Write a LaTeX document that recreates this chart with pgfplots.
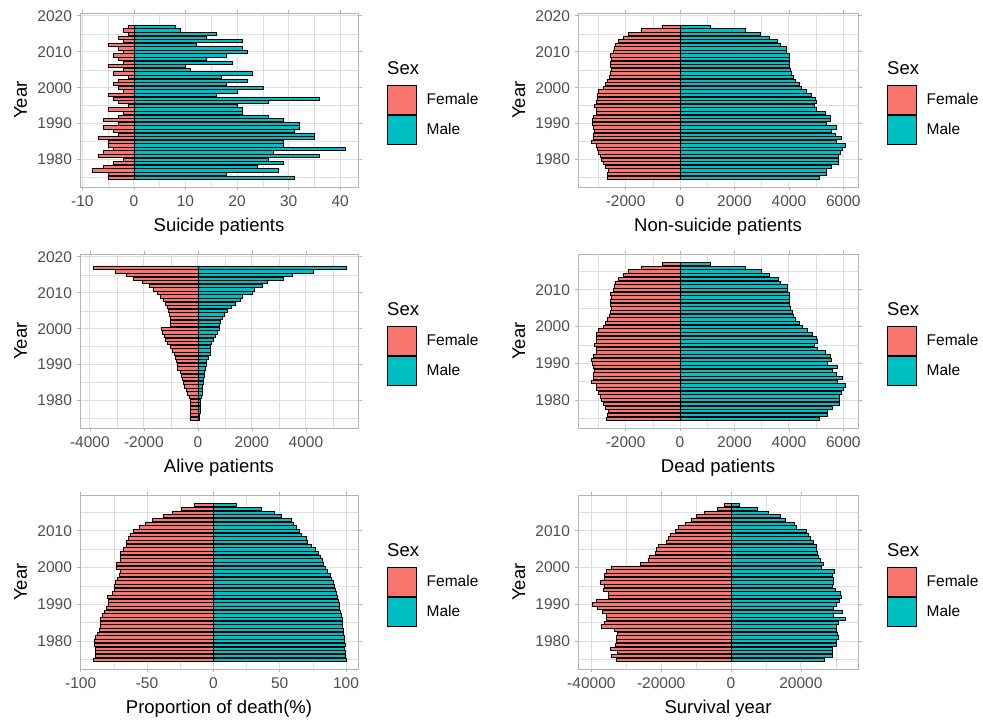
\documentclass[border=0pt]{standalone}
\usepackage{fontspec}
\setmainfont{Liberation Sans}
\usepackage{pgfplots}
\pgfplotsset{compat=1.18}
\usepackage{pgfplotstable}
\definecolor{fem}{HTML}{F8766D}
\definecolor{mal}{HTML}{00BFC4}
\definecolor{gridc}{HTML}{DEDEDE}
\definecolor{borderc}{HTML}{B3B3B3}
\definecolor{tickc}{HTML}{4D4D4D}
\newcommand\tickfont{\fontsize{15.5}{18}\selectfont}
\newcommand\titlefont{\fontsize{18.5}{22}\selectfont}
\newcommand\legfont{\fontsize{15.5}{18}\selectfont}

% Suicide patients
\pgfplotstableread{
year f m
2017 -1 8
2016 -2 9
2015 -1 16
2014 -3 14
2013 -2 21
2012 -5 12
2011 -3 21
2010 -2 22
2009 -4 18
2008 -3 14
2007 -2 19
2006 -5 10
2005 -2 11
2004 -4 23
2003 -1 17
2002 -3 22
2001 -4 18
2000 -3 25
1999 -2 20
1998 -5 16
1997 -4 36
1996 -3 26
1995 -1 20
1994 -5 21
1993 -2 21
1992 -3 26
1991 -6 29
1990 -3 32
1989 -6 32
1988 -4 31
1987 -3 35
1986 -7 35
1985 -5 29
1984 -5 29
1983 -4 41
1982 -6 27
1981 -7 36
1980 -2 26
1979 -4 29
1978 -6 24
1977 -8 28
1976 -5 18
1975 -5 31
}\tA

% Non-suicide patients
\pgfplotstableread{
year f m
2017 -650 1100
2016 -1430 2390
2015 -1900 2960
2014 -2080 3270
2013 -2260 3570
2012 -2390 3670
2011 -2420 3920
2010 -2450 3920
2009 -2570 4000
2008 -2510 4000
2007 -2570 4000
2006 -2570 4000
2005 -2530 4040
2004 -2570 4100
2003 -2610 4160
2002 -2690 4220
2001 -2750 4380
2000 -2820 4470
1999 -3000 4650
1998 -3060 4830
1997 -3060 4960
1996 -3080 5020
1995 -3150 4920
1994 -3080 5020
1993 -3080 5320
1992 -3180 5510
1991 -3240 5530
1990 -3210 5390
1989 -3180 5750
1988 -3160 5570
1987 -3180 5690
1986 -3180 5940
1985 -3270 5750
1984 -3080 6060
1983 -3060 5970
1982 -3000 5880
1981 -2940 5810
1980 -2880 5810
1979 -2820 5810
1978 -2750 5570
1977 -2630 5390
1976 -2660 5390
1975 -2690 5100
}\tB

% Alive patients
\pgfplotstableread{
year f m
2017 -3870 5490
2016 -3070 4280
2015 -2660 3480
2014 -2380 3150
2013 -2050 2560
2012 -1800 2380
2011 -1670 2070
2010 -1520 2010
2009 -1390 1660
2008 -1300 1580
2007 -1220 1390
2006 -1140 1230
2005 -1100 1080
2004 -1060 990
2003 -1030 900
2002 -1030 840
2001 -1040 780
2000 -1370 780
1999 -1310 720
1998 -1250 630
1997 -1190 570
1996 -1130 490
1995 -1030 470
1994 -940 440
1993 -880 440
1992 -820 370
1991 -810 320
1990 -780 320
1989 -760 280
1988 -660 250
1987 -600 220
1986 -560 200
1985 -540 200
1984 -490 160
1983 -430 160
1982 -380 150
1981 -310 140
1980 -290 100
1979 -290 100
1978 -290 75
1977 -290 75
1976 -300 65
1975 -300 40
}\tC

% Dead patients
\pgfplotstableread{
year f m
2017 -651 1108
2016 -1432 2399
2015 -1901 2976
2014 -2083 3284
2013 -2262 3591
2012 -2395 3682
2011 -2423 3941
2010 -2452 3942
2009 -2574 4018
2008 -2513 4014
2007 -2572 4019
2006 -2575 4010
2005 -2532 4051
2004 -2574 4123
2003 -2611 4177
2002 -2693 4242
2001 -2754 4398
2000 -2823 4495
1999 -3002 4670
1998 -3065 4846
1997 -3064 4996
1996 -3083 5046
1995 -3151 4940
1994 -3085 5041
1993 -3082 5341
1992 -3183 5536
1991 -3246 5559
1990 -3213 5422
1989 -3186 5782
1988 -3164 5601
1987 -3183 5725
1986 -3187 5975
1985 -3275 5779
1984 -3085 6089
1983 -3064 6011
1982 -3006 5907
1981 -2947 5846
1980 -2882 5836
1979 -2824 5839
1978 -2756 5594
1977 -2638 5418
1976 -2665 5408
1975 -2695 5131
}\tD

% Proportion of death (%)
\pgfplotstableread{
year f m
2017 -14.5 17
2016 -24 36
2015 -31 46
2014 -38 51
2013 -46 59
2012 -51 60
2011 -56 62.5
2010 -60 65
2009 -62.5 66
2008 -64 70
2007 -65.5 71
2006 -65.5 74
2005 -68 77
2004 -70 79
2003 -70.5 80.5
2002 -70.5 82
2001 -73 83
2000 -73 84.5
1999 -70 86
1998 -71 88
1997 -72.5 89
1996 -74 90
1995 -75 91
1994 -75 92
1993 -76 92.5
1992 -80 93
1991 -79.5 94
1990 -79.5 94.5
1989 -80.5 95
1988 -82.5 95.5
1987 -84 96
1986 -85 97
1985 -85 97.5
1984 -85.5 97.5
1983 -86 98
1982 -87.5 98
1981 -89 98.7
1980 -90 98.7
1979 -89.5 99.5
1978 -89 98.7
1977 -89 99.5
1976 -89 99.5
1975 -90.5 100
}\tE

% Survival year
\pgfplotstableread{
year f m
2017 -1900 2470
2016 -4000 7420
2015 -7800 10760
2014 -9900 14090
2013 -11430 15520
2012 -13060 18090
2011 -15240 18660
2010 -15900 21520
2009 -17340 22190
2008 -18000 22660
2007 -18480 23430
2006 -20960 24380
2005 -21340 24380
2004 -21630 24570
2003 -23530 25040
2002 -23820 25520
2001 -25910 26470
2000 -34290 25710
1999 -35630 29620
1998 -36390 28860
1997 -36390 29330
1996 -37540 29330
1995 -36390 28860
1994 -36580 29810
1993 -35250 31230
1992 -35250 31430
1991 -38480 31040
1990 -39720 30280
1989 -38290 29330
1988 -36860 32000
1987 -35630 29330
1986 -35630 32670
1985 -36200 30760
1984 -37150 30280
1983 -33340 30280
1982 -32580 30470
1981 -32770 30760
1980 -32770 30090
1979 -33060 30090
1978 -34680 28860
1977 -32580 28860
1976 -34290 28860
1975 -32770 26760
}\tF

\pgfplotsset{
  pan/.style={
    scale only axis, width=279pt, height=173.5pt, anchor=south west,
    clip=false, enlargelimits=false, scaled ticks=false,
    xbar,
    every axis plot/.append style={bar shift=0pt, bar width=0.9},
    axis line style={draw=borderc, line width=0.7pt},
    tick align=outside, major tick length=3.5pt, minor tick length=0pt,
    every tick/.style={draw=borderc, line width=0.7pt},
    xmajorgrids, ymajorgrids, xminorgrids, yminorgrids,
    major grid style={draw=gridc, line width=0.8pt},
    minor grid style={draw=gridc, line width=0.4pt},
    ticklabel style={font=\tickfont, text=tickc},
    xticklabel shift=2pt, yticklabel shift=1pt,
    label style={font=\titlefont, text=black},
    xlabel style={at={([yshift=-45pt]axis description cs:0.5,0)}, anchor=base},
    ylabel style={at={([xshift=-53pt]axis description cs:0,0.5)}, anchor=base},
    ylabel={Year},
    legend image code/.code={\draw[##1] (0pt,-14.5pt) rectangle (29pt,14.5pt); \path (39pt,0pt);},
    legend style={at={([xshift=29pt,yshift=-14.5pt]axis description cs:1,0.5)},
      anchor=west, draw=none, fill=none, inner sep=0pt, row sep=0pt,
      font=\legfont, text=black,
      nodes={inner sep=0pt}},
    legend cell align=left,
  },
  rowA/.style={ymin=1972.35, ymax=2020.65,
    ytick={1980,1990,2000,2010,2020}, yticklabels={1980,1990,2000,2010,2020},
    minor ytick={1975,1985,1995,2005,2015}},
  rowB/.style={ymin=1972.4, ymax=2019.6,
    ytick={1980,1990,2000,2010}, yticklabels={1980,1990,2000,2010},
    minor ytick={1975,1985,1995,2005,2015}},
  fbar/.style={fill=fem, draw=black, line width=0.5pt, bar shift=0pt, bar width=0.9, forget plot},
  mbar/.style={fill=mal, draw=black, line width=0.5pt, bar shift=0pt, bar width=0.9, forget plot},
}

\newcommand\sexlegend{%
  \addlegendimage{fill=fem, draw=black, line width=0.5pt}\addlegendentry{Female}
  \addlegendimage{fill=mal, draw=black, line width=0.5pt}\addlegendentry{Male}
  \node[anchor=base west, font=\titlefont, text=black, inner sep=0pt]
    at ([xshift=29pt,yshift=25.5pt]axis description cs:1,0.5) {Sex};
}

\begin{document}
\begin{tikzpicture}
\path[use as bounding box] (0pt,0pt) rectangle (983pt,722pt);

% Row 1 left: Suicide patients
\begin{axis}[pan, rowA, at={(80pt,535pt)}, width=278pt,
  xmin=-10.45, xmax=43.45,
  xtick={-10,0,10,20,30,40}, xticklabels={-10,0,10,20,30,40},
  minor xtick={-5,5,15,25,35},
  xlabel={Suicide patients}]
\addplot[fbar] table[x=f, y=year] {\tA};
\addplot[mbar] table[x=m, y=year] {\tA};
\sexlegend
\end{axis}

% Row 1 right: Non-suicide patients
\begin{axis}[pan, rowA, at={(578pt,535pt)}, width=280pt,
  xmin=-3750, xmax=6540,
  xtick={-2000,0,2000,4000,6000}, xticklabels={-2000,0,2000,4000,6000},
  minor xtick={-3000,-1000,1000,3000,5000},
  xlabel={Non-suicide patients}]
\addplot[fbar] table[x=f, y=year] {\tB};
\addplot[mbar] table[x=m, y=year] {\tB};
\sexlegend
\end{axis}

% Row 2 left: Alive patients
\begin{axis}[pan, rowA, at={(80pt,294pt)}, width=278pt,
  xmin=-4365, xmax=5930,
  xtick={-4000,-2000,0,2000,4000}, xticklabels={-4000,-2000,0,2000,4000},
  minor xtick={-3000,-1000,1000,3000,5000},
  xlabel={Alive patients}]
\addplot[fbar] table[x=f, y=year] {\tC};
\addplot[mbar] table[x=m, y=year] {\tC};
\sexlegend
\end{axis}

% Row 2 right: Dead patients
\begin{axis}[pan, rowB, at={(578pt,294pt)}, width=280pt,
  xmin=-3750, xmax=6540,
  xtick={-2000,0,2000,4000,6000}, xticklabels={-2000,0,2000,4000,6000},
  minor xtick={-3000,-1000,1000,3000,5000},
  xlabel={Dead patients}]
\addplot[fbar] table[x=f, y=year] {\tD};
\addplot[mbar] table[x=m, y=year] {\tD};
\sexlegend
\end{axis}

% Row 3 left: Proportion of death
\begin{axis}[pan, rowB, at={(80pt,53pt)}, width=278pt,
  xmin=-100.5, xmax=109,
  xtick={-100,-50,0,50,100}, xticklabels={-100,-50,0,50,100},
  minor xtick={-75,-25,25,75},
  xlabel={Proportion of death(\%)}]
\addplot[fbar] table[x=f, y=year] {\tE};
\addplot[mbar] table[x=m, y=year] {\tE};
\sexlegend
\end{axis}

% Row 3 right: Survival year
\begin{axis}[pan, rowB, at={(578pt,53pt)}, width=280pt,
  xmin=-43830, xmax=36370,
  xtick={-40000,-20000,0,20000}, xticklabels={-40000,-20000,0,20000},
  minor xtick={-30000,-10000,10000,30000},
  xlabel={Survival year}]
\addplot[fbar] table[x=f, y=year] {\tF};
\addplot[mbar] table[x=m, y=year] {\tF};
\sexlegend
\end{axis}
\end{tikzpicture}
\end{document}
